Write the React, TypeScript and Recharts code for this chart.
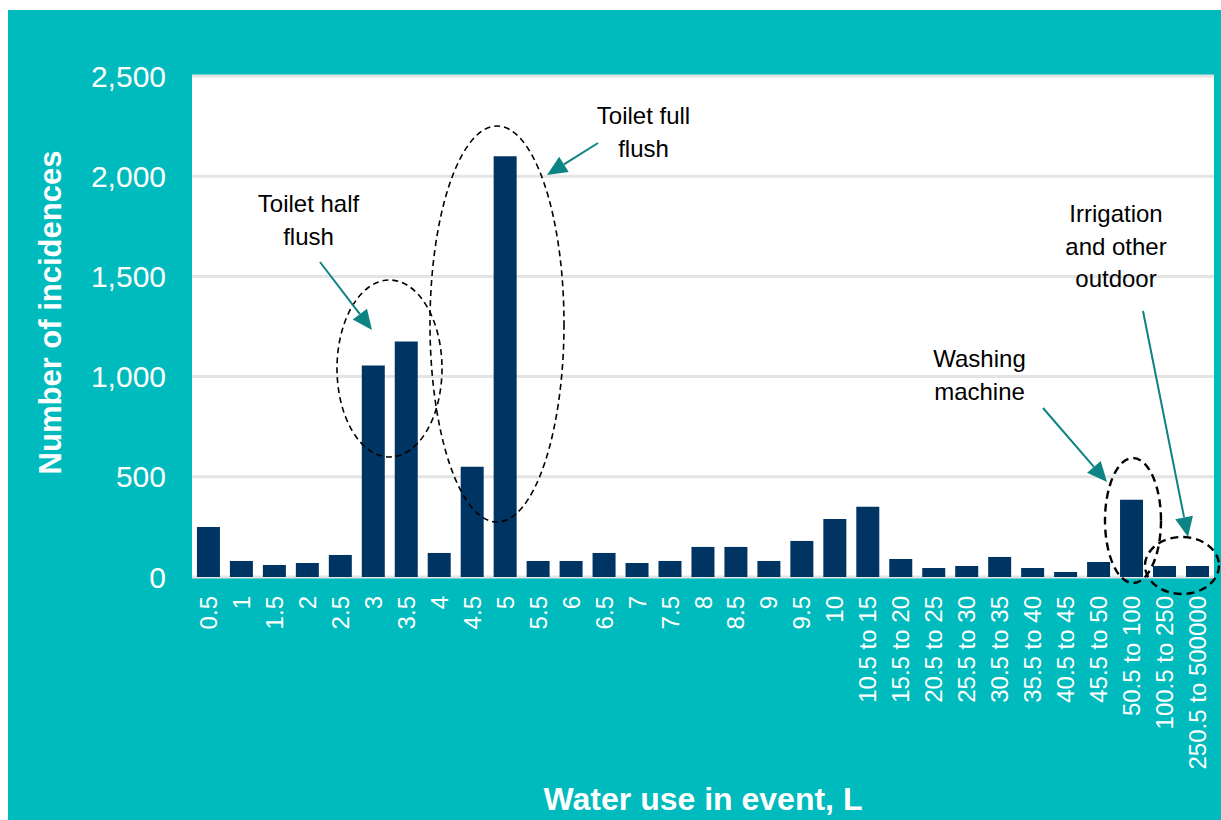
import React from 'react';
import { BarChart, Bar, XAxis, YAxis, CartesianGrid } from 'recharts';

// Volume bins (L) and how often each occurred
const ranges = [
    '0.5', '1', '1.5', '2', '2.5', '3', '3.5', '4', '4.5', '5',
    '5.5', '6', '6.5', '7', '7.5', '8', '8.5', '9', '9.5', '10',
    '10.5 to 15', '15.5 to 20', '20.5 to 25', '25.5 to 30', '30.5 to 35',
    '35.5 to 40', '40.5 to 45', '45.5 to 50', '50.5 to 100', '100.5 to 250',
    '250.5 to 500000',
];
const incidences = [
    250, 80, 60, 70, 110, 1055, 1175, 120, 550, 2100,
    80, 80, 120, 70, 80, 150, 150, 80, 180, 290,
    350, 90, 45, 55, 100, 45, 25, 75, 385, 55,
    55,
];
const yTicks = [0, 500, 1000, 1500, 2000, 2500];

const data = ranges.map((range, i) => ({ range, count: incidences[i] }));

const FONT = '"Liberation Sans", Arial, sans-serif';
const TEAL_BG = '#00BBBD';
const BAR = '#003462';
const ARROW = '#0B8483';

const W = 1213;
const H = 810;

const XTick = ({ x, y, payload }: any) => (
    <text
        x={x}
        y={y + 19}
        transform={`rotate(-90, ${x}, ${y + 19})`}
        textAnchor="end"
        dominantBaseline="central"
        fill="#fff"
        fontSize={24}
        fontFamily={FONT}
    >
        {payload.value}
    </text>
);

const YTick = ({ x, y, payload }: any) => (
    <text x={x} y={y} dy="0.35em" textAnchor="end" fill="#fff" fontSize={30} fontFamily={FONT}>
        {Number(payload.value).toLocaleString('en-US')}
    </text>
);

const XTitle = ({ viewBox }: any) => (
    <text
        x={viewBox.x + viewBox.width / 2}
        y={viewBox.y + 233}
        textAnchor="middle"
        fill="#fff"
        fontSize={32}
        fontWeight="bold"
        fontFamily={FONT}
    >
        Water use in event, L
    </text>
);

const YTitle = ({ viewBox }: any) => {
    const cx = viewBox.x + 42;
    const cy = viewBox.y + viewBox.height / 2 - 14;
    return (
        <text
            x={cx}
            y={cy}
            transform={`rotate(-90, ${cx}, ${cy})`}
            textAnchor="middle"
            dominantBaseline="central"
            fill="#fff"
            fontSize={31}
            fontWeight="bold"
            fontFamily={FONT}
        >
            Number of incidences
        </text>
    );
};

// callouts drawn on top of the chart
const Arrow = ({ x1, y1, x2, y2 }: { x1: number; y1: number; x2: number; y2: number }) => {
    const dx = x2 - x1;
    const dy = y2 - y1;
    const len = Math.hypot(dx, dy);
    const ux = dx / len;
    const uy = dy / len;
    const hl = 20;
    const hw = 9;
    const bx = x2 - ux * hl;
    const by = y2 - uy * hl;
    const pts = `${x2},${y2} ${bx - uy * hw},${by + ux * hw} ${bx + uy * hw},${by - ux * hw}`;
    return (
        <g>
            <line x1={x1} y1={y1} x2={bx} y2={by} stroke={ARROW} strokeWidth={2} />
            <polygon points={pts} fill={ARROW} />
        </g>
    );
};

const Note = ({ x, y, lines }: { x: number; y: number; lines: string[] }) => (
    <text x={x} y={y} textAnchor="middle" fill="#000" fontSize={24} fontFamily={FONT}>
        {lines.map((l, i) => (
            <tspan key={i} x={x} dy={i === 0 ? 0 : 32.5}>
                {l}
            </tspan>
        ))}
    </text>
);

const Annotations = () => (
    <svg
        width={W}
        height={H}
        style={{ position: 'absolute', left: 0, top: 0, pointerEvents: 'none', overflow: 'visible' }}
    >
        <Note x={300.5} y={202} lines={['Toilet half', 'flush']} />
        <Note x={635.5} y={114} lines={['Toilet full', 'flush']} />
        <Note x={971.5} y={357} lines={['Washing', 'machine']} />
        <Note x={1108} y={212} lines={['Irrigation', 'and other', 'outdoor']} />

        <g fill="none" stroke="#000">
            <ellipse cx={381.5} cy={358.5} rx={52.5} ry={88.5} strokeWidth={1.6} strokeDasharray="6 4" />
            <ellipse cx={489} cy={314} rx={67} ry={198} strokeWidth={1.6} strokeDasharray="6 4" />
            <ellipse cx={1125} cy={510.5} rx={28} ry={62.5} strokeWidth={2.4} strokeDasharray="8 5" />
            <ellipse cx={1174} cy={555.5} rx={37} ry={28.5} strokeWidth={2.4} strokeDasharray="8 5" />
        </g>

        <Arrow x1={312} y1={252} x2={364} y2={320} />
        <Arrow x1={590} y1={133} x2={539} y2={165} />
        <Arrow x1={1035} y1={398} x2={1099} y2={472} />
        <Arrow x1={1135} y1={301} x2={1180} y2={527} />
    </svg>
);

export default function App() {
    return (
        <div
            style={{
                position: 'absolute',
                left: 8,
                top: 10,
                width: W,
                height: H,
                background: TEAL_BG,
                fontFamily: FONT,
            }}
        >
            <BarChart
                width={W}
                height={H}
                data={data}
                margin={{ top: 66, right: 7, bottom: 0, left: 0 }}
                barCategoryGap="15%"
            >
                <CartesianGrid vertical={false} stroke="#E4E4E4" strokeWidth={3} fill="#FFFFFF" />
                <XAxis
                    dataKey="range"
                    interval={0}
                    tickLine={false}
                    axisLine={false}
                    tickSize={0}
                    tickMargin={0}
                    height={243}
                    tick={<XTick />}
                    label={{ content: <XTitle /> } as any}
                />
                <YAxis
                    domain={[0, 2500]}
                    ticks={yTicks}
                    interval={0}
                    width={184}
                    tickLine={false}
                    axisLine={false}
                    tickSize={0}
                    tickMargin={26}
                    tick={<YTick />}
                    label={{ content: <YTitle /> } as any}
                />
                <Bar dataKey="count" fill={BAR} isAnimationActive={false} />
            </BarChart>
            <Annotations />
        </div>
    );
}
